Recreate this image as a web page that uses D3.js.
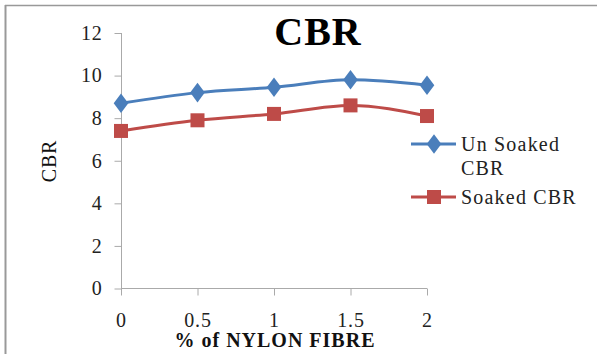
<!DOCTYPE html>
<html><head><meta charset="utf-8">
<script src="https://cdn.jsdelivr.net/npm/d3@7"></script>
<style>body{margin:0;background:#fff}svg{display:block}svg text{font-family:"Liberation Serif","Times New Roman",serif !important}</style>
</head><body><svg id="c" width="597" height="354"></svg>
<script>
const fibre = [0, 0.5, 1, 1.5, 2];
const unSoaked = [8.7, 9.2, 9.45, 9.8, 9.55];
const soaked = [7.4, 7.9, 8.2, 8.6, 8.1];
const yTicks = [0, 2, 4, 6, 8, 10, 12];
const xTicks = [0, 0.5, 1, 1.5, 2];
const seriesNames = ["Un Soaked CBR", "Soaked CBR"];

const svg = d3.select("#c");
// frame
svg.append("line").attr("x1",5.5).attr("x2",5.5).attr("y1",5).attr("y2",354).attr("stroke","#999").attr("stroke-width",2);
svg.append("line").attr("x1",5).attr("x2",597).attr("y1",5.5).attr("y2",5.5).attr("stroke","#999").attr("stroke-width",1.5);

const x = d3.scaleLinear().domain([0,2]).range([121,427]);
const y = d3.scaleLinear().domain([0,12]).range([288.5,33]);

const xAx = svg.append("g").attr("transform","translate(0,288.5)")
  .call(d3.axisBottom(x).tickValues(xTicks).tickSize(7).tickFormat(d=>String(d)));
const yAx = svg.append("g").attr("transform","translate(121.5,0)")
  .call(d3.axisLeft(y).tickValues(yTicks).tickSize(7).tickFormat(d=>String(d)));
[xAx,yAx].forEach(g=>{
  g.select(".domain").attr("stroke","#aaa");
  g.selectAll(".tick line").attr("stroke","#aaa");
  g.selectAll("text").attr("font-size",20).attr("letter-spacing",0.8).attr("fill","#222");
});
xAx.select(".domain").attr("d","M121,0H427");
yAx.select(".domain").attr("d",`M0,${y(12)}V${y(0)}`);
yAx.selectAll(".tick text").attr("x",-19);
xAx.selectAll(".tick text").attr("y",24);

const line = d3.line().x((d,i)=>x(fibre[i])).y(d=>y(d)).curve(d3.curveMonotoneX);
const blue = "#4a7ebb", red = "#be4b48";
svg.append("path").attr("d",line(unSoaked)).attr("fill","none").attr("stroke",blue).attr("stroke-width",3);
svg.append("path").attr("d",line(soaked)).attr("fill","none").attr("stroke",red).attr("stroke-width",3);
const diamond = d3.symbol().type(d3.symbolDiamond).size(110);
svg.selectAll(".dm").data(unSoaked).join("path").attr("d",diamond)
  .attr("transform",(d,i)=>`translate(${x(fibre[i])},${y(d)}) scale(1.3,1)`).attr("fill",blue);
svg.selectAll(".sq").data(soaked).join("rect")
  .attr("x",(d,i)=>x(fibre[i])-7).attr("y",d=>y(d)-7).attr("width",14).attr("height",14).attr("fill",red);

// title
svg.append("text").attr("x",318).attr("y",45).attr("text-anchor","middle").attr("font-size",40).attr("font-weight","bold").attr("letter-spacing",1).attr("fill","#000").text("CBR");
// axis titles
svg.append("text").attr("x",275).attr("y",347).attr("text-anchor","middle").attr("font-size",20).attr("letter-spacing",1).attr("font-weight","bold").attr("fill","#111").text("% of NYLON FIBRE");
svg.append("text").attr("transform","translate(56,161) rotate(-90)").attr("text-anchor","middle").attr("font-size",20).attr("letter-spacing",0.8).attr("fill","#111").text("CBR");

// legend
const lg = svg.append("g").attr("font-size",20).attr("letter-spacing",1.2).attr("fill","#222");
lg.append("line").attr("x1",411).attr("x2",456).attr("y1",144).attr("y2",144).attr("stroke",blue).attr("stroke-width",3);
lg.append("path").attr("d",diamond).attr("transform","translate(434,144) scale(1.3,1)").attr("fill",blue);
lg.append("text").attr("x",461).attr("y",151).text("Un Soaked");
lg.append("text").attr("x",461).attr("y",175).text("CBR");
lg.append("line").attr("x1",411).attr("x2",456).attr("y1",197).attr("y2",197).attr("stroke",red).attr("stroke-width",3);
lg.append("rect").attr("x",427).attr("y",190).attr("width",14).attr("height",14).attr("fill",red);
lg.append("text").attr("x",461).attr("y",204).text(seriesNames[1]);
</script></body></html>
